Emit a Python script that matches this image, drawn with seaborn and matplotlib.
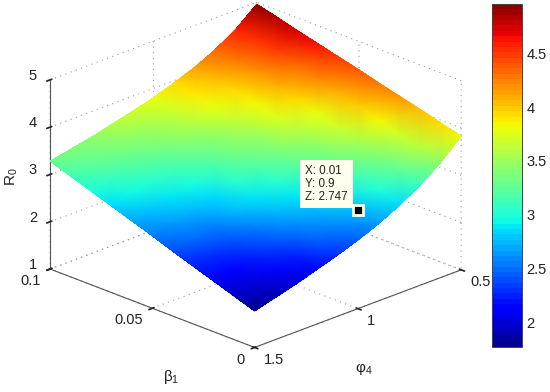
import numpy as np
import seaborn as sns
import matplotlib.pyplot as plt
from matplotlib.colors import ListedColormap
from matplotlib.collections import QuadMesh
from matplotlib.lines import Line2D
from mpl_toolkits.mplot3d import proj3d

beta1 = [0, 0.01, 0.02, 0.03, 0.04, 0.05, 0.06, 0.07, 0.08, 0.09, 0.1]
phi4 = [0.5, 0.6, 0.7, 0.8, 0.9, 1.0, 1.1, 1.2, 1.3, 1.4, 1.5]

# one row per phi4, one column per beta1
r0_phi_050 = [3.83, 3.94, 4.06, 4.17, 4.28, 4.40, 4.51, 4.62, 4.73, 4.85, 4.96]
r0_phi_060 = [3.43, 3.57, 3.70, 3.83, 3.97, 4.10, 4.22, 4.35, 4.47, 4.56, 4.60]
r0_phi_070 = [3.11, 3.25, 3.39, 3.54, 3.68, 3.81, 3.94, 4.07, 4.19, 4.28, 4.33]
r0_phi_080 = [2.85, 3.00, 3.14, 3.29, 3.44, 3.59, 3.72, 3.85, 3.96, 4.05, 4.12]
r0_phi_090 = [2.63, 2.75, 2.92, 3.08, 3.23, 3.37, 3.51, 3.64, 3.77, 3.87, 3.95]
r0_phi_100 = [2.45, 2.59, 2.74, 2.89, 3.03, 3.18, 3.32, 3.46, 3.58, 3.70, 3.80]
r0_phi_110 = [2.29, 2.43, 2.58, 2.72, 2.87, 3.02, 3.15, 3.29, 3.43, 3.56, 3.68]
r0_phi_120 = [2.15, 2.26, 2.38, 2.54, 2.72, 2.86, 3.00, 3.14, 3.29, 3.43, 3.57]
r0_phi_130 = [2.01, 2.11, 2.23, 2.40, 2.56, 2.74, 2.88, 3.03, 3.17, 3.32, 3.46]
r0_phi_140 = [1.89, 2.00, 2.14, 2.30, 2.48, 2.63, 2.78, 2.93, 3.07, 3.22, 3.37]
r0_phi_150 = [1.77, 1.92, 2.07, 2.22, 2.37, 2.53, 2.68, 2.83, 2.98, 3.13, 3.28]

beta_ticks = [0, 0.05, 0.1]
phi_ticks = [0.5, 1, 1.5]
z_ticks = [1, 2, 3, 4, 5]
bar_ticks = [2, 2.5, 3, 3.5, 4, 4.5]

tip_x = 0.01
tip_y = 0.9
tip_z = 2.747

W, H = 550, 392

sns.set_theme(style='white')
plt.rcParams['font.family'] = ['Liberation Sans', 'DejaVu Sans']
plt.rcParams['mathtext.fontset'] = 'custom'
plt.rcParams['mathtext.rm'] = 'Liberation Sans'
plt.rcParams['mathtext.default'] = 'regular'
plt.rcParams['grid.linestyle'] = (0, (1, 4))
plt.rcParams['grid.linewidth'] = 0.8
plt.rcParams['grid.color'] = '#999999'

jet = ListedColormap(sns.mpl_palette('jet', 64))

r0 = np.array([r0_phi_050, r0_phi_060, r0_phi_070, r0_phi_080, r0_phi_090, r0_phi_100,
               r0_phi_110, r0_phi_120, r0_phi_130, r0_phi_140, r0_phi_150])
bb, pp = np.meshgrid(beta1, phi4)

fig = plt.figure(figsize=(W / 100, H / 100), dpi=100)

side = 640
cx, cy = 247, 183.5
ax = fig.add_axes([(cx - side / 2) / W, (H - cy - side / 2) / H, side / W, side / H],
                  projection='3d', proj_type='ortho', computed_zorder=False)
ax.patch.set_alpha(0)
ax.view_init(elev=22.3, azim=135.3)
ax.set_box_aspect((290, 290, 204), zoom=1.137 * 392 / side)

surf = ax.plot_surface(bb, pp, r0, cmap=jet, vmin=1.77, vmax=4.96, rstride=1, cstride=1,
                       linewidth=0, antialiased=False, shade=False)

ax.set_xlim(0, 0.1, view_margin=0)
ax.set_ylim(0.5, 1.5, view_margin=0)
ax.set_zlim(1, 5, view_margin=0)
ax.set_xticks(beta_ticks, ['0', '0.05', '0.1'], ha='right', va='center')
ax.set_yticks(phi_ticks, ['0.5', '1', '1.5'], ha='left', va='center')
ax.set_zticks(z_ticks, ['1', '2', '3', '4', '5'], va='baseline')
ax.tick_params(labelsize=10.5, labelcolor='#222222', pad=3)
ax.tick_params(axis='z', pad=2)
ax.zaxis.set_ticks_position('upper')
for axis in (ax.xaxis, ax.yaxis, ax.zaxis):
    axis.set_pane_color((1, 1, 1, 0))
    axis.pane.set_edgecolor('none')
    axis.line.set_color('#555555')
    axis.line.set_linewidth(0.8)

# smooth shading on top of the facets, same grid values projected by the 3d axes
M = ax.get_proj()
sx, sy, _ = proj3d.proj_transform(bb.ravel(), pp.ravel(), r0.ravel(), M)
mesh = QuadMesh(np.dstack([sx.reshape(r0.shape), sy.reshape(r0.shape)]), shading='gouraud',
                cmap=jet, norm=surf.norm, transform=ax.transData, zorder=1)
mesh.set_array(r0)
fig.add_artist(mesh)

tx, ty, _ = proj3d.proj_transform(np.array([tip_x]), np.array([tip_y]), np.array([tip_z]), M)
fig.add_artist(Line2D(tx, ty, marker='s', ms=6.5, mfc='black', mec='#fffff0', mew=2,
                      transform=ax.transData, zorder=2))

cax = fig.add_axes([492 / W, (H - 347) / H, 30 / W, 343 / H])
cb = fig.colorbar(surf, cax=cax, ticks=bar_ticks)
cb.ax.set_yticklabels(['2', '2.5', '3', '3.5', '4', '4.5'])
cb.ax.tick_params(direction='in', left=True, right=True, length=3, width=0.7,
                  labelsize=10.5, pad=3, color='#333333', labelcolor='#222222')
cb.outline.set_edgecolor('#444444')
cb.outline.set_linewidth(0.7)


def fx(x):
    return x / W


def fy(y):
    return 1 - y / H


fig.text(fx(12), fy(177), '$R_0$', rotation=90, fontsize=11, ha='center', va='center', color='#222222')
fig.text(fx(171), fy(377), '\u03b2$_1$', fontsize=11, ha='center', va='center', color='#222222')
fig.text(fx(364), fy(369), '\u03c6$_4$', fontsize=11, ha='center', va='center', color='#222222')
fig.text(fx(305), fy(203), f'X: {tip_x}\nY: {tip_y}\nZ: {tip_z}', fontsize=8.4, ha='left', va='bottom',
         color='#222222', linespacing=1.1,
         bbox=dict(boxstyle='square,pad=0.45', fc='#fffff0', ec='none'))

fig.savefig('out.png', dpi=100)
